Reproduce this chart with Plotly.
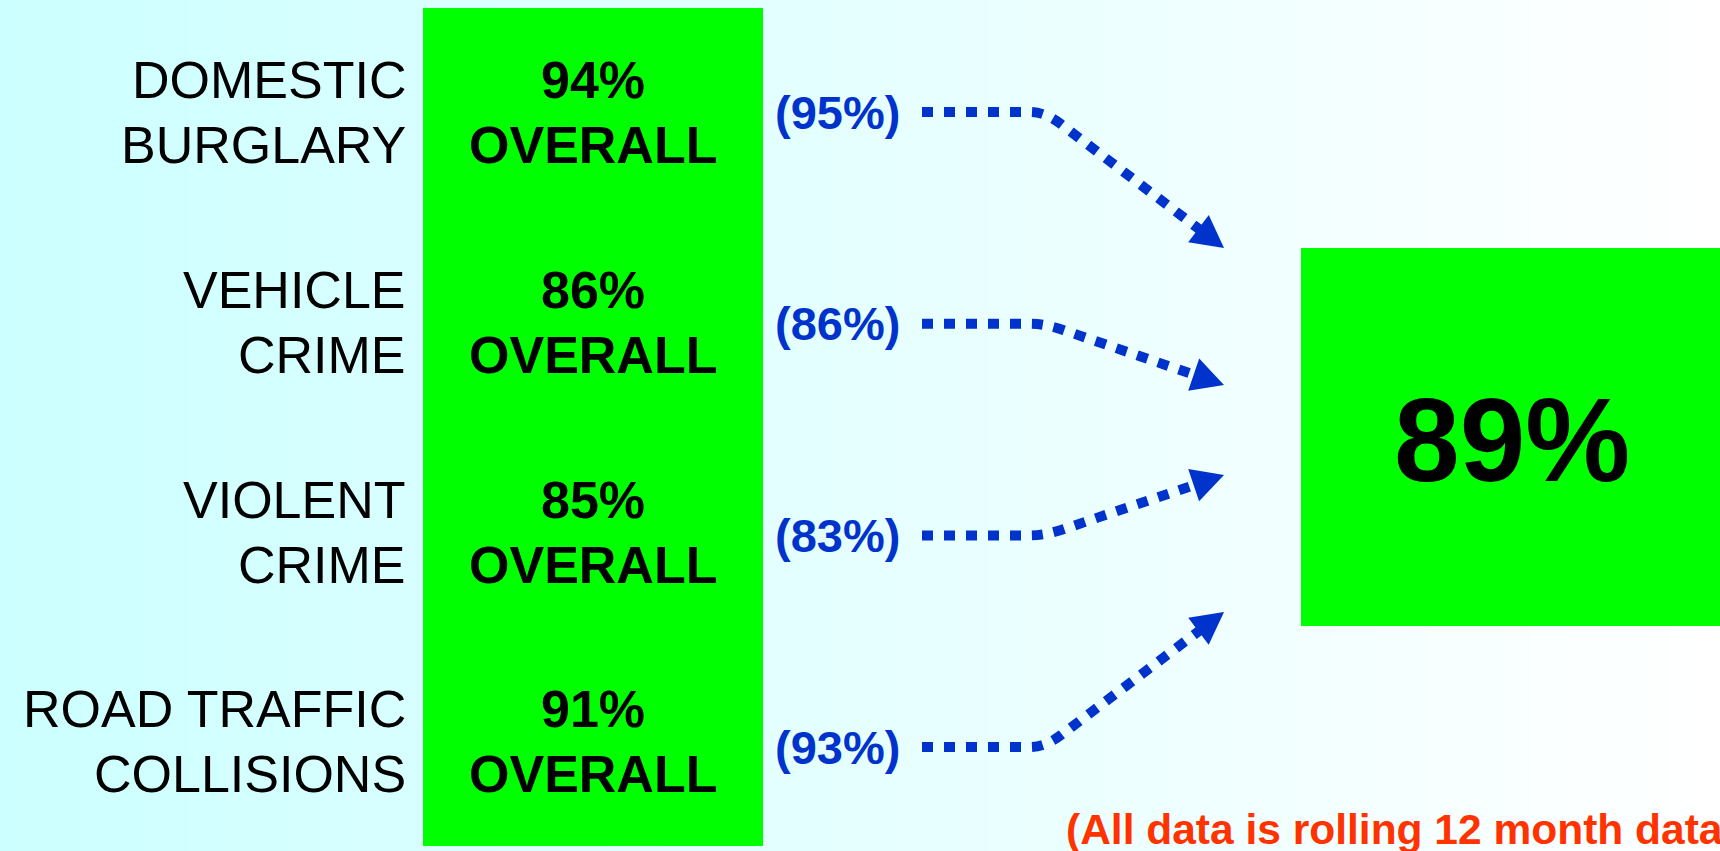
import math
import plotly.graph_objects as go

# ---------------- data ----------------
categories = ["DOMESTIC<br>BURGLARY", "VEHICLE<br>CRIME", "VIOLENT<br>CRIME", "ROAD TRAFFIC<br>COLLISIONS"]
current_pct = [94, 86, 85, 91]
previous_pct = [95, 86, 83, 93]
overall_pct = 89
value_suffix = "OVERALL"
footnote = "(All data is rolling 12 month data)"

# ---------------- layout constants (pixels) ----------------
W, H = 1720, 851
FONT = "Liberation Sans, Arial, sans-serif"
GREEN = "#00FF00"
BLUE = "#0033CC"
RED = "#FF3300"

label_right = 408
col_x0, col_x1, col_y0, col_y1 = 423, 763, 8, 846
col_cx = (col_x0 + col_x1) / 2
line1_y0, row_step, line_gap = 80, 209.8, 65
prev_cx, prev_y0, prev_step = 837, 112, 211.7
arrow_x0, elbow_x, tip_x = 922, 1045, 1224
tip_center, tip_offsets = 430, [-182, -45, 45, 182]
head_len, head_half = 32, 17
box_x0, box_x1, box_y0, box_y1 = 1301, 1760, 248, 626

shapes = []
annotations = []

# background gradient (light cyan -> white)
n_strips = 172
for k in range(n_strips):
    x0 = k * W / n_strips
    x1 = (k + 1) * W / n_strips + 0.5
    t = (k + 0.5) / n_strips
    r = int(round(204 + (255 - 204) * t))
    shapes.append(dict(type="rect", xref="x", yref="y", x0=x0, x1=x1, y0=0, y1=H,
                       line=dict(width=0), fillcolor=f"rgb({r},255,255)", layer="below"))

# green column
shapes.append(dict(type="rect", xref="x", yref="y", x0=col_x0, x1=col_x1, y0=col_y0, y1=col_y1,
                   line=dict(width=0), fillcolor=GREEN, layer="below"))
# big overall box
shapes.append(dict(type="rect", xref="x", yref="y", x0=box_x0, x1=box_x1, y0=box_y0, y1=box_y1,
                   line=dict(width=0), fillcolor=GREEN, layer="below"))

for i, cat in enumerate(categories):
    y1 = line1_y0 + i * row_step
    lines = cat.split("<br>")
    for j, ln in enumerate(lines):
        annotations.append(dict(x=label_right, y=y1 + j * line_gap, xref="x", yref="y", text=ln,
                                showarrow=False, xanchor="right", yanchor="middle",
                                font=dict(family=FONT, size=52, color="black")))
    annotations.append(dict(x=col_cx, y=y1, xref="x", yref="y", text=f"{current_pct[i]}%",
                            showarrow=False, xanchor="center", yanchor="middle",
                            font=dict(family=FONT, size=52, color="black", weight="bold")))
    annotations.append(dict(x=col_cx, y=y1 + line_gap, xref="x", yref="y", text=value_suffix,
                            showarrow=False, xanchor="center", yanchor="middle",
                            font=dict(family=FONT, size=52, color="black", weight="bold")))
    # previous value in brackets
    py = prev_y0 + i * prev_step
    annotations.append(dict(x=prev_cx, y=py, xref="x", yref="y", text=f"({previous_pct[i]}%)",
                            showarrow=False, xanchor="center", yanchor="middle",
                            font=dict(family=FONT, size=47, color=BLUE, weight="bold")))
    # dotted arrow
    ty = tip_center + tip_offsets[i]
    dx, dy = tip_x - elbow_x, ty - py
    d = math.hypot(dx, dy)
    ux, uy = dx / d, dy / d
    nx, ny = -uy, ux
    bx, by = tip_x - head_len * ux, ty - head_len * uy
    cx2, cy2 = elbow_x + 20 * ux, py + 20 * uy
    path = (f"M {arrow_x0},{py} L {elbow_x - 15},{py} Q {elbow_x},{py} {cx2:.1f},{cy2:.1f} "
            f"L {bx + 4 * ux:.1f},{by + 4 * uy:.1f}")
    shapes.append(dict(type="path", xref="x", yref="y", path=path,
                       line=dict(color=BLUE, width=10, dash="11px,11px")))
    head = (f"M {tip_x},{ty} L {bx + head_half * nx:.1f},{by + head_half * ny:.1f} "
            f"L {bx - head_half * nx:.1f},{by - head_half * ny:.1f} Z")
    shapes.append(dict(type="path", xref="x", yref="y", path=head,
                       line=dict(width=0), fillcolor=BLUE))

annotations.append(dict(x=1512, y=440, xref="x", yref="y", text=f"{overall_pct}%",
                        showarrow=False, xanchor="center", yanchor="middle",
                        font=dict(family=FONT, size=118, color="black", weight="bold")))
annotations.append(dict(x=1064, y=829, xref="x", yref="y", text=footnote,
                        showarrow=False, xanchor="left", yanchor="middle",
                        font=dict(family=FONT, size=42.5, color=RED, weight="bold")))

fig = go.Figure()
fig.add_trace(go.Scatter(x=[0, W], y=[0, H], mode="markers", marker=dict(opacity=0),
                         hoverinfo="skip", showlegend=False))
fig.update_layout(
    width=W, height=H, margin=dict(l=0, r=0, t=0, b=0),
    paper_bgcolor="white", plot_bgcolor="white",
    xaxis=dict(range=[0, W], visible=False, fixedrange=True),
    yaxis=dict(range=[H, 0], visible=False, fixedrange=True),
    shapes=shapes, annotations=annotations, showlegend=False,
)
fig.write_html("out.html", config={"displayModeBar": False},
               post_script="document.body.style.margin='0';document.body.style.overflow='hidden';")
